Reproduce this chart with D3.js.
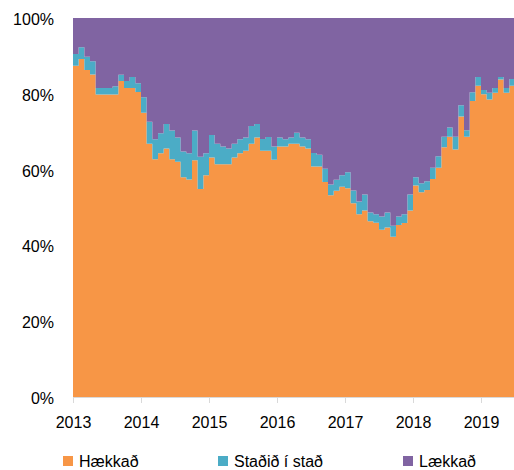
<!DOCTYPE html>
<html><head><meta charset="utf-8">
<script src="https://cdn.jsdelivr.net/npm/d3@7"></script>
<style>
html,body{margin:0;padding:0;background:#fff;}
svg text{font-family:"Liberation Sans",Arial,sans-serif;font-size:16px;fill:#000;}
</style></head>
<body><svg id="c" width="514" height="470"></svg>
<script>
const seriesNames = ["Hækkað", "Staðið í stað", "Lækkað"];
const seriesColors = ["#F79646", "#4BACC6", "#8064A2"];
const yearLabels = ["2013","2014","2015","2016","2017","2018","2019"];
const yTickLabels = ["0%","20%","40%","60%","80%","100%"];
// monthly values, Jan 2013 – Jun 2019 (%)
const haekkad = [87.4,89.2,86.3,85.1,79.8,79.8,79.8,79.8,83.4,81.5,81.5,80.5,
  75.0,66.8,62.7,64.3,65.6,62.7,62.1,58.0,57.4,62.5,54.9,58.5,
  63.2,61.4,61.4,61.4,63.2,64.3,65.0,66.8,68.5,65.0,65.0,62.6,
  66.1,66.1,66.8,66.8,66.1,65.6,60.8,60.8,56.7,53.2,54.4,55.5,
  55.1,51.1,48.2,49.2,46.4,46.0,44.1,44.7,42.3,45.4,45.9,49.2,
  55.8,54.0,54.6,57.5,60.5,65.9,68.7,65.3,74.0,68.7,78.1,82.1,
  79.9,78.5,80.3,83.8,80.3,82.1];
const stadid = [3.1,3.1,3.5,3.5,1.7,1.7,1.7,2.2,1.6,1.9,2.9,2.3,
  4.1,5.8,5.3,5.3,6.4,7.6,6.4,6.8,6.9,7.8,8.5,5.8,
  5.9,5.4,4.7,4.2,3.6,3.7,3.5,4.7,3.5,3.1,3.6,3.5,
  2.4,1.9,1.7,2.9,2.4,2.4,3.6,3.1,3.5,2.9,2.9,3.0,
  4.2,3.4,3.4,4.2,2.3,2.2,3.5,4.0,2.9,2.2,2.3,4.2,
  2.2,2.4,2.3,3.0,3.0,2.8,2.4,3.4,3.0,1.7,2.3,2.3,
  1.1,1.8,1.2,0.6,1.2,1.8];
const laekkad = [9.5,7.7,10.2,11.4,18.5,18.5,18.5,18.0,15.0,16.6,15.6,17.2,
  20.9,27.4,32.0,30.4,28.0,29.7,31.5,35.2,35.7,29.7,36.6,35.7,
  30.9,33.2,33.9,34.4,33.2,32.0,31.5,28.5,28.0,31.9,31.4,33.9,
  31.5,32.0,31.5,30.3,31.5,32.0,35.6,36.1,39.8,43.9,42.7,41.5,
  40.7,45.5,48.4,46.6,51.3,51.8,52.4,51.3,54.8,52.4,51.8,46.6,
  42.0,43.6,43.1,39.5,36.5,31.3,28.9,31.3,23.0,29.6,19.6,15.6,
  19.0,19.7,18.5,15.6,18.5,16.1];

(function(){
const svg = d3.select("#c");
const mLeft = 73, mRight = 515, mTop = 18, mBottom = 397;
const n = haekkad.length;
const x = d3.scaleLinear().domain([0, n]).range([mLeft, mRight]);
const y = d3.scaleLinear().domain([0, 100]).range([mBottom, mTop]);

const keys = ["h","s","l"];
const rows = haekkad.map((v,i)=>({i, h:v, s:stadid[i], l:laekkad[i]}));
// closing step point so the last month has width
rows.push(Object.assign({}, rows[n-1], {i:n}));
const stacked = d3.stack().keys(keys).offset(d3.stackOffsetExpand)(rows);

const area = d3.area()
  .curve(d3.curveStepAfter)
  .x(d=>x(d.data.i))
  .y0(d=>y(d[0]*100))
  .y1(d=>y(d[1]*100));

svg.append("g").selectAll("path").data(stacked).join("path")
  .attr("d", area)
  .attr("fill", (d,i)=>seriesColors[i]);

// x axis
const xAxis = d3.axisBottom(x)
  .tickValues(yearLabels.map((_,i)=>i*12))
  .tickFormat((d,i)=>yearLabels[i])
  .tickSize(6).tickSizeOuter(0);
const gx = svg.append("g").attr("transform",`translate(0,${mBottom})`).call(xAxis);
gx.select(".domain").attr("stroke","#d9d9d9");
gx.selectAll(".tick line").attr("stroke","#d9d9d9");
gx.selectAll(".tick text").attr("y",31).attr("dy",0)
  .style("font-family","'Liberation Sans',Arial,sans-serif").style("font-size","16px").attr("fill","#000");

// y axis labels
const gy = svg.append("g");
gy.selectAll("text").data(yTickLabels).join("text")
  .attr("x", 54).attr("y", (d,i)=>y(i*20)+7)
  .attr("text-anchor","end").text(d=>d);

// legend
const legX = [63, 218, 403];
const lg = svg.append("g");
seriesNames.forEach((name,i)=>{
  lg.append("rect").attr("x",legX[i]).attr("y",456).attr("width",10).attr("height",10).attr("fill",seriesColors[i]);
  lg.append("text").attr("x",legX[i]+16).attr("y",467).text(name);
});
})();
</script></body></html>
